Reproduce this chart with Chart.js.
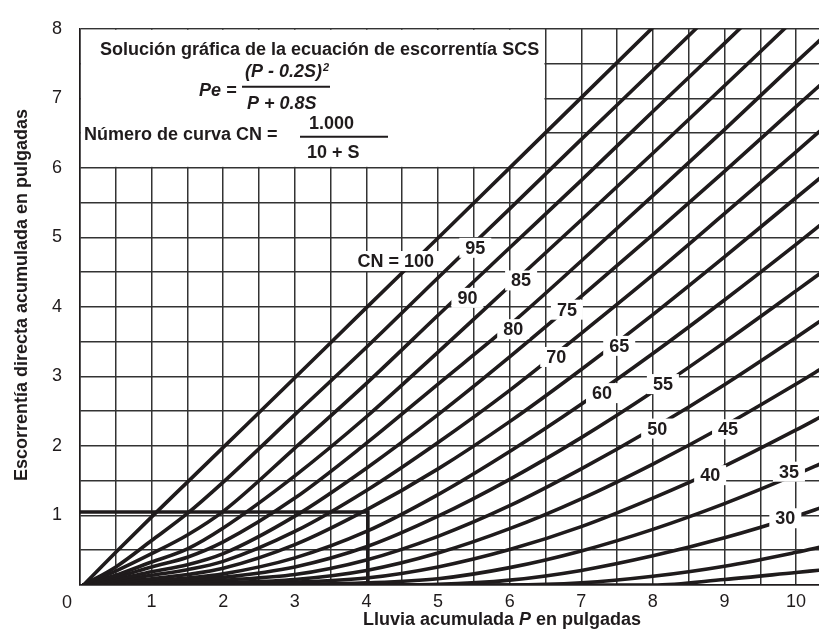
<!DOCTYPE html>
<html>
<head>
<meta charset="utf-8">
<script src="https://cdn.jsdelivr.net/npm/chart.js@4.4.1/dist/chart.umd.min.js"></script>
<style>
  html, body { margin: 0; padding: 0; background: #fff; }
  #chart { display: block; }
</style>
</head>
<body>
<canvas id="chart" width="819" height="637"></canvas>
<script>
// rainfall P (in) where the curves were read
const rainfall = [0.05, 0.5, 1, 1.5, 2, 3, 4, 5, 6, 7, 8, 9, 10, 10.4];

// direct runoff Pe (in) read for each curve number
const cn100 = [0, 0.47, 0.98, 1.48, 1.98, 2.98, 3.99, 4.99, 6.0, 7.01, 8.02, 9.03, 10.04, 10.44];
const cn95 = [0, 0.26, 0.64, 1.03, 1.48, 2.45, 3.42, 4.42, 5.41, 6.41, 7.40, 8.40, 9.40, 9.80];
const cn90 = [0, 0.20, 0.45, 0.72, 1.06, 1.97, 2.90, 3.88, 4.85, 5.82, 6.81, 7.79, 8.78, 9.17];
const cn85 = [0, 0.14, 0.33, 0.52, 0.82, 1.57, 2.42, 3.35, 4.30, 5.25, 6.21, 7.18, 8.16, 8.55];
const cn80 = [0, 0.11, 0.26, 0.40, 0.62, 1.25, 2.04, 2.89, 3.74, 4.66, 5.60, 6.55, 7.52, 7.90];
const cn75 = [0, 0.08, 0.19, 0.29, 0.45, 0.99, 1.68, 2.45, 3.28, 4.15, 5.04, 5.95, 6.88, 7.25];
const cn70 = [0, 0.06, 0.14, 0.22, 0.34, 0.77, 1.36, 2.05, 2.80, 3.62, 4.46, 5.34, 6.23, 6.59];
const cn65 = [0, 0.04, 0.09, 0.15, 0.24, 0.58, 1.08, 1.67, 2.35, 3.10, 3.89, 4.72, 5.57, 5.91];
const cn60 = [0, 0.03, 0.06, 0.10, 0.16, 0.39, 0.77, 1.30, 1.92, 2.60, 3.33, 4.10, 4.90, 5.23];
const cn55 = [0, 0.02, 0.04, 0.07, 0.11, 0.26, 0.55, 0.99, 1.52, 2.12, 2.78, 3.49, 4.23, 4.53];
const cn50 = [0, 0.01, 0.02, 0.04, 0.07, 0.15, 0.36, 0.70, 1.14, 1.67, 2.25, 2.88, 3.56, 3.84];
const cn45 = [0, 0.005, 0.01, 0.02, 0.035, 0.08, 0.21, 0.46, 0.81, 1.24, 1.74, 2.29, 2.89, 3.14];
const cn40 = [0, 0, 0.005, 0.01, 0.02, 0.04, 0.10, 0.26, 0.51, 0.84, 1.25, 1.71, 2.23, 2.45];
const cn35 = [0, 0, 0, 0, 0.005, 0.01, 0.03, 0.09, 0.25, 0.49, 0.80, 1.17, 1.59, 1.77];
const cn30 = [0, 0, 0, 0, 0, 0, 0, 0.01, 0.07, 0.21, 0.42, 0.68, 0.99, 1.13];
const cn25 = [0, 0, 0, 0, 0, 0, 0, 0, 0, 0.03, 0.125, 0.27, 0.47, 0.56];
const cn20 = [0, 0, 0, 0, 0, 0, 0, 0, 0, 0, 0, 0.08, 0.18, 0.22];

const curves = [cn100, cn95, cn90, cn85, cn80, cn75, cn70, cn65, cn60, cn55, cn50, cn45, cn40, cn35, cn30, cn25, cn20];

// curve labels and where they sit on the curves (P, Pe)
const curveLabels = ["CN = 100", "95", "90", "85", "80", "75", "70", "65", "60", "55", "50", "45", "40", "35", "30"];
const labelRainfall = [4.41, 5.52, 5.41, 6.16, 6.05, 6.80, 6.65, 7.53, 7.29, 8.14, 8.06, 9.05, 8.80, 9.90, 9.85];
const labelRunoff = [4.66, 4.85, 4.13, 4.38, 3.68, 3.96, 3.28, 3.44, 2.76, 2.89, 2.25, 2.24, 1.58, 1.63, 0.96];

// worked example: P = 4 in -> Pe about 1.05 in
const exampleRainfall = [0, 4.02, 4.02];
const exampleRunoff = [1.05, 1.05, 0];

const FONT = '"Liberation Sans", Arial, Helvetica, sans-serif';
const INK = "#1f1b1c";

const datasets = curves.map((runoff) => ({
  data: rainfall.map((p, i) => ({ x: p, y: runoff[i] })),
  showLine: true,
  borderColor: INK,
  borderWidth: 3.6,
  pointRadius: 0,
  cubicInterpolationMode: "monotone",
  borderCapStyle: "round",
}));

datasets.push({
  data: exampleRainfall.map((p, i) => ({ x: p, y: exampleRunoff[i] })),
  showLine: true,
  borderColor: INK,
  borderWidth: 3.6,
  pointRadius: 0,
  tension: 0,
});

const annotations = {
  id: "annotations",
  beforeDatasetsDraw(chart) {
    const { ctx } = chart;
    const x = chart.scales.x, y = chart.scales.y;
    const l0 = x.getPixelForValue(0), t0 = y.getPixelForValue(8);
    const r = x.getPixelForValue(6.5), b = y.getPixelForValue(6);

    ctx.save();
    // the equation box has no grid
    ctx.fillStyle = "#fff";
    ctx.fillRect(l0 + 1, t0 + 1, r - l0 - 2, b - t0 - 2);

    ctx.fillStyle = INK;
    ctx.strokeStyle = INK;
    ctx.textAlign = "left";
    ctx.textBaseline = "alphabetic";

    ctx.font = "bold 18px " + FONT;
    ctx.fillText("Solución gráfica de la ecuación de escorrentía SCS", l0 + 20, t0 + 26);

    ctx.font = "italic bold 18px " + FONT;
    ctx.fillText("Pe =", l0 + 119, t0 + 67);
    const num = "(P - 0.2S)";
    ctx.fillText(num, l0 + 165, t0 + 48);
    const numW = ctx.measureText(num).width;
    ctx.fillText("P + 0.8S", l0 + 167, t0 + 80);
    ctx.font = "italic bold 11px " + FONT;
    ctx.fillText("2", l0 + 165 + numW + 1, t0 + 42);

    ctx.lineWidth = 2;
    ctx.beginPath();
    ctx.moveTo(l0 + 162, t0 + 58);
    ctx.lineTo(l0 + 250, t0 + 58);
    ctx.moveTo(l0 + 220, t0 + 108);
    ctx.lineTo(l0 + 308, t0 + 108);
    ctx.stroke();

    ctx.font = "bold 18px " + FONT;
    ctx.fillText("Número de curva CN =", l0 + 4, t0 + 111);
    ctx.fillText("1.000", l0 + 229, t0 + 100);
    ctx.fillText("10 + S", l0 + 227, t0 + 129);
    ctx.restore();
  },
  afterDatasetsDraw(chart) {
    const { ctx } = chart;
    const x = chart.scales.x, y = chart.scales.y;
    ctx.save();
    ctx.font = "bold 18px " + FONT;
    ctx.textAlign = "center";
    ctx.textBaseline = "middle";
    curveLabels.forEach((txt, i) => {
      const px = x.getPixelForValue(labelRainfall[i]);
      const py = y.getPixelForValue(labelRunoff[i]);
      const w = ctx.measureText(txt).width + 12;
      ctx.fillStyle = "#fff";
      ctx.fillRect(px - w / 2, py - 10, w, 20);
      ctx.fillStyle = INK;
      ctx.fillText(txt, px, py + 1);
    });
    ctx.restore();
  },
  afterDraw(chart) {
    const { ctx } = chart;
    const x = chart.scales.x, y = chart.scales.y;
    ctx.save();
    ctx.fillStyle = INK;

    // origin label sits left of the corner
    ctx.font = "18px " + FONT;
    ctx.textAlign = "center";
    ctx.textBaseline = "middle";
    ctx.fillText("0", x.getPixelForValue(0) - 13, y.getPixelForValue(0) + 18);

    // y title
    ctx.save();
    ctx.translate(27, 295);
    ctx.rotate(-Math.PI / 2);
    ctx.font = "bold 18px " + FONT;
    ctx.textAlign = "center";
    ctx.textBaseline = "alphabetic";
    ctx.fillText("Escorrentía directa acumulada en pulgadas", 0, 0);
    ctx.restore();

    // x title, with P in italics
    const parts = [
      ["Lluvia acumulada ", "bold 18px "],
      ["P", "italic bold 18px "],
      [" en pulgadas", "bold 18px "],
    ];
    let total = 0;
    parts.forEach(([t, f]) => { ctx.font = f + FONT; total += ctx.measureText(t).width; });
    let cx = 502 - total / 2;
    ctx.textAlign = "left";
    ctx.textBaseline = "alphabetic";
    parts.forEach(([t, f]) => {
      ctx.font = f + FONT;
      ctx.fillText(t, cx, 625);
      cx += ctx.measureText(t).width;
    });
    ctx.restore();
  },
};

new Chart(document.getElementById("chart"), {
  type: "scatter",
  data: { datasets },
  plugins: [annotations],
  options: {
    responsive: false,
    animation: false,
    layout: { padding: { top: 17, right: 0, left: 0, bottom: 0 } },
    plugins: { legend: { display: false }, tooltip: { enabled: false } },
    scales: {
      x: {
        type: "linear",
        min: 0,
        max: 10.32,
        afterFit: (s) => { s.height = 52; },
        grid: { color: "#333", lineWidth: 1.5, drawTicks: false },
        border: { color: INK, width: 1.5 },
        ticks: {
          stepSize: 0.5,
          includeBounds: false,
          autoSkip: false,
          maxRotation: 0,
          padding: 6,
          color: INK,
          font: { family: FONT, size: 18 },
          callback: (v) => (Number.isInteger(v) && v !== 0 ? String(v) : ""),
        },
      },
      y: {
        type: "linear",
        min: 0,
        max: 8,
        afterFit: (s) => { s.width = 80; },
        grid: { color: "#333", lineWidth: 1.5, drawTicks: false },
        border: { color: INK, width: 1.5 },
        ticks: {
          stepSize: 0.5,
          autoSkip: false,
          padding: 18,
          color: INK,
          font: { family: FONT, size: 18 },
          callback: (v) => (Number.isInteger(v) && v !== 0 ? String(v) : ""),
        },
      },
    },
  },
});
</script>
</body>
</html>
